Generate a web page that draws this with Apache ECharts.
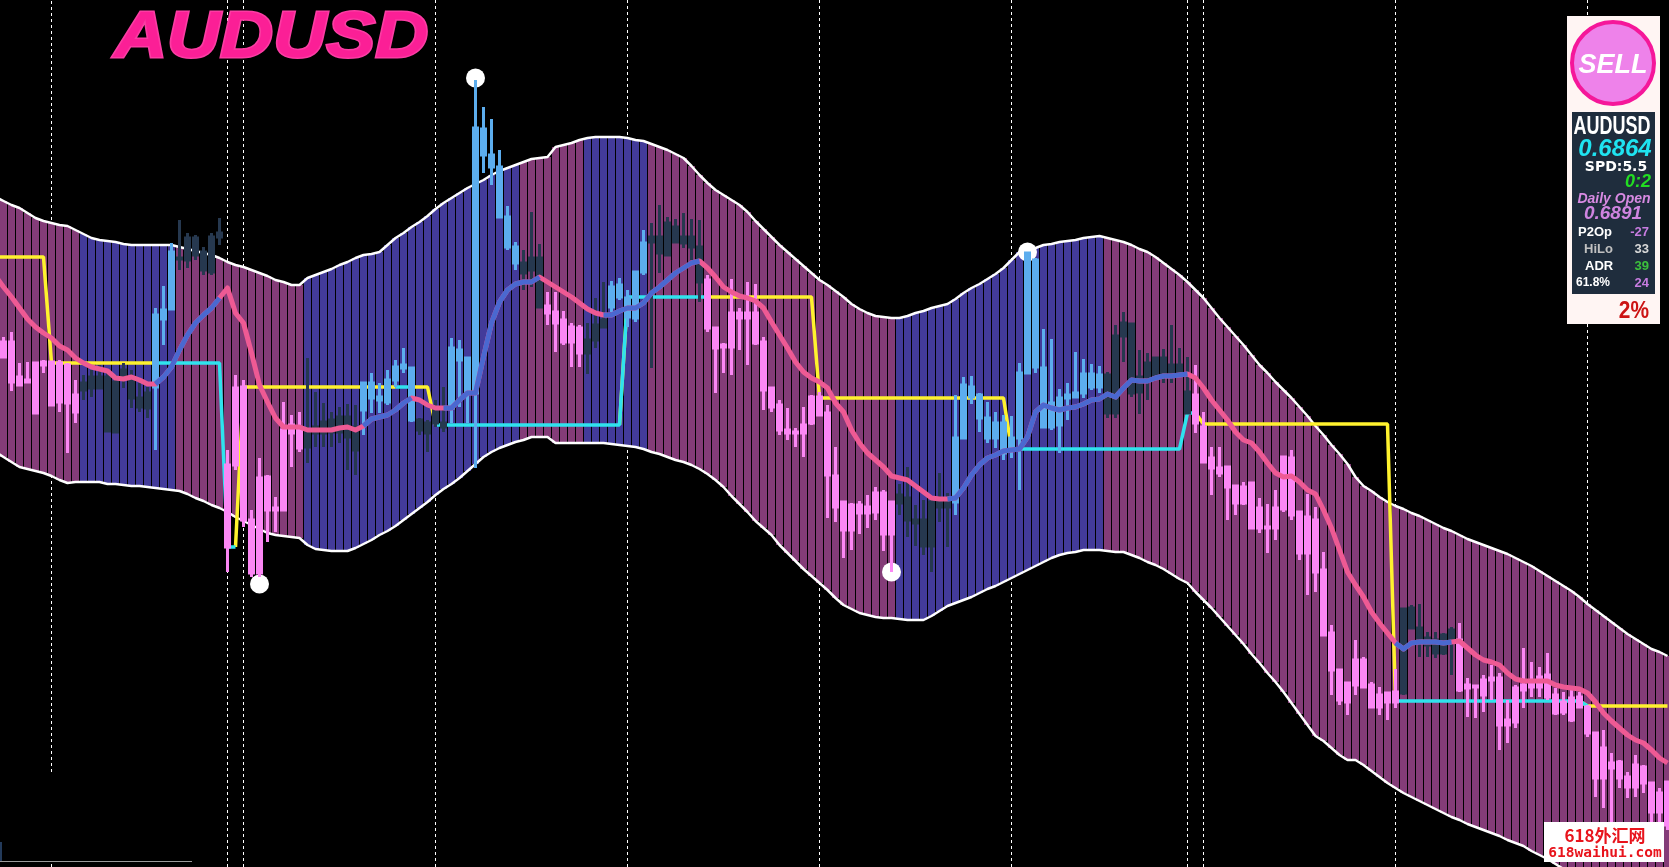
<!DOCTYPE html>
<html>
<head>
<meta charset="utf-8">
<title>AUDUSD</title>
<style>html,body{margin:0;padding:0;background:#000;overflow:hidden}#chart{width:1669px;height:867px}</style>
<script src="https://cdn.jsdelivr.net/npm/echarts@6/dist/echarts.min.js"></script>
</head>
<body>
<div id="chart"></div>
<script>
// The vertical scale is the chart's own reading scale (0 at top, 867 at bottom).
// The first entry of every list is the bar just off the left edge.
const bandUpper = [
197,201,205,208,213,218,221,223,225,226,230,234,238,240,241,242,244,245,245,245,245,
245,245,247,249,251,253,255,258,262,265,267,270,273,276,280,282,285,285,278,275,
272,269,265,262,258,255,254,252,245,238,233,227,222,216,209,203,198,193,188,184,
180,175,171,168,165,162,159,158,157,147,145,143,140,138,137,137,137,137,138,140,
141,144,147,150,154,158,166,175,183,190,195,200,205,212,221,229,237,245,252,259,
266,273,280,285,291,297,304,309,313,316,317,318,318,316,313,311,308,306,304,299,
293,288,284,279,274,268,260,252,250,248,245,244,242,241,240,238,237,236,238,240,
242,245,249,252,257,263,269,275,282,290,298,308,318,327,336,345,355,365,373,382,
390,398,407,416,426,435,445,454,464,477,486,491,497,502,506,509,513,516,520,524,
528,531,535,539,542,545,548,551,554,558,562,566,571,576,581,586,591,597,604,610,
616,622,628,634,639,644,649,652,656];
const bandLower = [
452,457,462,467,469,471,473,476,480,483,482,482,482,482,484,484,485,486,486,487,488,
489,490,491,494,498,501,505,508,512,517,521,525,529,533,535,536,537,538,545,549,
550,551,551,551,548,544,540,535,531,526,520,514,508,502,495,489,484,478,471,464,
457,452,448,445,442,440,437,437,437,443,443,443,443,443,443,443,444,445,446,447,
449,452,454,457,460,462,465,469,474,480,487,496,504,512,521,528,535,545,553,561,
569,576,583,590,598,605,609,613,615,617,618,618,619,620,620,620,616,611,606,603,
600,597,593,589,586,582,578,574,570,566,562,558,555,553,552,550,550,550,551,552,
552,555,558,562,565,569,574,579,583,592,600,608,617,626,635,644,654,663,673,682,
692,703,714,725,736,741,748,755,760,760,765,771,777,783,788,793,797,801,805,809,
813,817,820,824,827,830,833,836,840,843,846,851,855,859,864,869,873,877,881,885,
889,893,897,900,904,908,912,916,920];
// bar-index runs [first, endExclusive] during which the band is blue; purple elsewhere
const bandBlueRuns = [[11,23],[39,66],[74,82],[113,139]];

const bodyTop = [
340,342,342,377,380,363,362,362,363,365,395,383,377,377,377,382,370,377,398,393,315,
310,252,258,238,238,252,237,233,465,388,387,520,478,477,508,430,425,430,432,427,
422,420,417,417,427,383,383,397,380,367,365,368,420,423,410,423,348,350,358,128,
129,155,167,217,247,263,258,258,306,312,320,327,328,340,325,320,287,285,298,272,
243,237,237,223,227,237,237,247,280,328,345,313,313,313,313,342,388,405,430,432,
425,397,397,413,476,502,505,505,507,493,493,502,495,498,520,520,502,502,502,438,
385,387,395,418,423,423,438,373,253,260,368,403,398,395,393,374,374,375,375,336,
323,324,377,363,358,358,365,365,392,395,427,458,468,467,486,487,483,508,527,508,
457,458,512,517,520,570,633,670,683,660,660,685,695,693,692,609,608,628,638,640,
635,630,640,685,686,680,678,678,720,688,685,683,677,675,695,702,698,697,707,733,
748,763,762,777,765,767,783,793,782];
const bodyBottom = [
352,357,382,385,382,413,365,405,402,403,412,390,388,388,431,432,377,398,407,408,387,
319,309,259,260,255,270,272,237,547,465,520,573,573,510,510,510,433,448,447,433,
433,432,432,437,450,410,398,400,402,380,368,420,430,433,423,427,408,360,392,393,
155,167,217,247,263,273,270,307,313,323,342,342,353,353,340,327,307,297,317,318,
272,242,253,255,242,243,247,282,328,348,347,347,318,318,343,390,407,430,433,433,
433,423,415,475,507,530,530,513,513,512,534,534,503,520,523,546,546,507,507,502,
438,397,418,438,438,453,450,438,373,367,427,427,425,398,397,393,387,387,413,413,
336,393,392,377,375,375,375,373,413,423,462,468,473,487,503,503,528,528,528,528,
509,515,553,553,572,635,670,700,702,685,687,707,707,702,702,693,628,638,645,653,
653,640,690,688,687,695,680,725,725,722,690,687,687,697,713,712,720,707,733,778,
778,768,778,787,787,783,812,812,825];
const wickTop = [
335,337,332,363,362,362,360,362,360,363,380,375,370,365,370,375,363,370,383,387,308,
286,243,220,233,235,247,233,218,450,375,380,510,458,475,497,402,415,412,358,392,
403,412,407,404,405,382,373,383,370,360,348,367,418,420,400,387,338,340,357,80,
107,119,150,206,242,250,212,244,292,292,311,323,325,323,298,282,281,278,290,272,
230,223,205,217,219,213,219,220,275,327,343,279,308,282,284,337,388,400,408,428,
407,395,392,405,447,502,503,501,495,487,490,502,484,467,505,500,497,473,493,395,
377,376,393,402,412,415,416,363,253,258,329,339,389,383,352,359,364,366,372,325,
312,323,350,353,358,349,325,348,357,365,412,447,447,466,486,482,483,498,504,490,
457,450,512,494,507,552,625,670,683,640,657,682,687,693,669,608,605,604,632,632,
633,627,623,678,685,675,665,673,700,685,648,662,667,653,688,692,690,692,705,733,
730,753,760,772,755,765,783,788,782];
const wickBottom = [
355,357,391,385,383,413,373,405,412,453,423,400,397,388,431,432,388,408,412,418,450,
345,309,270,268,260,275,275,245,572,470,527,577,577,542,532,510,467,452,463,447,
447,447,443,470,475,435,413,413,405,387,373,422,435,452,427,432,423,407,423,468,
173,185,217,250,270,290,287,307,325,352,345,367,367,374,348,328,312,300,327,322,
275,368,273,255,242,248,260,302,332,393,373,375,350,365,345,410,412,435,440,447,
457,425,415,518,522,558,550,534,528,520,551,572,515,537,546,555,572,522,547,515,
438,404,432,443,448,460,458,490,373,373,427,430,453,420,398,398,390,393,418,418,
362,397,414,400,375,383,383,377,413,433,462,495,477,520,515,505,528,533,553,540,
512,520,560,595,592,635,695,705,715,695,687,707,715,720,708,695,628,657,657,658,
655,675,692,717,718,712,700,750,743,728,708,697,697,700,715,715,722,708,737,797,
808,830,788,798,797,793,822,822,830];
// candle colour runs: [kind, number of bars]
const candleKindRuns = [['p',11],['d',9],['b',3],['d',6],['p',10],['d',7],['b',7],['d',4],['b',9],['d',3],
  ['p',5],['d',3],['b',5],['d',7],['p',24],['d',7],['b',19],['d',11],['p',26],['d',7],['p',27]];

const maLine = [
276,287,297,308,319,327,333,338,346,350,358,363,367,369,371,378,379,377,380,384,384,
377,367,350,335,323,315,308,298,288,313,323,353,385,402,418,427,427,427,430,430,
430,430,428,427,430,426,419,417,415,410,403,398,400,405,408,408,408,400,393,393,
357,323,302,290,284,282,282,277,282,287,292,297,303,309,313,315,315,311,308,308,
303,293,287,280,273,268,263,261,268,277,287,292,296,298,301,308,322,335,348,362,
372,378,382,388,403,412,430,443,453,460,467,476,478,480,486,492,498,499,499,498,
488,475,465,458,455,451,450,449,437,412,405,408,410,408,407,404,400,399,394,397,
388,380,381,381,378,376,376,375,374,378,388,400,410,420,432,440,443,452,463,473,
477,476,482,490,494,510,528,550,572,585,597,612,623,633,643,649,643,642,642,642,
643,642,641,648,655,660,662,665,673,679,681,681,681,681,685,687,688,689,693,702,
713,721,728,735,740,743,750,758,763];
const maBlueRuns = [[20,28],[46,52],[56,68],[76,88],[119,149],[175,182]];

const stepLevels = [257,363,547,387,425,297,398,449,413,424,701,706];
const stepBarCounts = [7,22,2,24,24,24,24,22,2,24,24,11];
const stepCyanRuns = [[20,30],[50,52],[55,78],[79,89],[127,150],[175,199]];
const stepYellowRuns = [[0,20],[30,50],[52,55],[78,79],[89,127],[150,175],[198,209]];

const extremeBars = [33,60,112,129];
const extremeLevels = [584,78,572,252];
const dayLineBars = [7,29,31,55,79,103,127,149,151,175,199];

const barLabels = bandUpper.map((_, i) => String(i));

const COL = {bandP:'#843c78', bandB:'#433b9a', p:'#fb87f4', b:'#5cadee', d:'#26384f',
  maPink:'#ee5a94', maBlue:'#4a68d0', yellow:'#fff22e', cyan:'#2fe3ee'};

function inRuns(i, runs){ return runs.some(r => i >= r[0] && i <= r[1]); }
function inRunsHalf(i, runs){ return runs.some(r => i >= r[0] && i < r[1]); }

const candleKinds = [];
candleKindRuns.forEach(r => { for (let k=0;k<r[1];k++) candleKinds.push(r[0]); });
const candleData = bodyTop.map((t,i) => {
  const c = COL[candleKinds[i]];
  return {value:[t, bodyBottom[i], wickBottom[i], wickTop[i]],
    itemStyle:{color:c,color0:c,borderColor:c,borderColor0:c,borderColorDoji:c}};
});
const stepLine = [];
stepLevels.forEach((v,k) => { for (let j=0;j<stepBarCounts[k];j++) stepLine.push(v); });

const dayLines = dayLineBars.map(b => [{coord:[b, b===7?772:0]},{coord:[b, b===7?0:867]}]);

const chart = echarts.init(document.getElementById('chart'), null, {renderer:'canvas'});

function txt(text,x,y,fill,font,align,sx){
  return {type:'text', silent:true, z:102, x:x, y:y, scaleX:sx||1,
    style:{text,fill,font,textAlign:align||'left',textVerticalAlign:'middle'}};
}
const F = '"Liberation Sans",Arial,sans-serif';

chart.setOption({
  animation:false,
  backgroundColor:'#000',
  grid:{left:-8.5, top:0, width:1680, height:867, containLabel:false, outerBoundsMode:'none'},
  tooltip:{show:false},
  xAxis:{type:'category', data:barLabels, show:false, boundaryGap:true},
  yAxis:{type:'value', min:0, max:867, inverse:true, show:false},
  series:[
    {type:'bar', name:'base', stack:'band', barWidth:7, z:2, silent:true, itemStyle:{color:'transparent'}, data:bandUpper},
    {type:'bar', name:'band', stack:'band', barWidth:7, z:2, silent:true,
      data:bandLower.map((v,i)=>({value:v-bandUpper[i], itemStyle:{color: inRunsHalf(i,bandBlueRuns)?COL.bandB:COL.bandP}}))},
    {type:'line', name:'upper', data:bandUpper, z:3, showSymbol:false, silent:true, lineStyle:{color:'#fff',width:2.5},
      markLine:{z:1, silent:true, symbol:'none', animation:false, label:{show:false},
        lineStyle:{color:'#fff',width:1,type:[3,3]}, data:dayLines}},
    {type:'line', name:'lower', data:bandLower, z:3, showSymbol:false, silent:true, lineStyle:{color:'#fff',width:2.5}},
    {type:'line', name:'stepYellow', z:4, showSymbol:false, silent:true, connectNulls:false, lineStyle:{color:COL.yellow,width:3.5},
      data:stepLine.map((v,i)=>inRuns(i,stepYellowRuns)?v:null)},
    {type:'line', name:'stepCyan', z:4, showSymbol:false, silent:true, connectNulls:false, lineStyle:{color:COL.cyan,width:3.5},
      data:stepLine.map((v,i)=>inRuns(i,stepCyanRuns)?v:null)},
    {type:'scatter', name:'extremes', z:5, silent:true, symbolSize:19, itemStyle:{color:'#fff',opacity:1},
      data:extremeBars.map((b,k)=>[b, extremeLevels[k]])},
    {type:'candlestick', name:'candles', z:6, silent:true, barWidth:4, itemStyle:{borderWidth:3}, data:candleData},
    {type:'line', name:'maPink', z:7, showSymbol:false, silent:true, lineStyle:{color:COL.maPink,width:5,join:'round'}, data:maLine},
    {type:'line', name:'maBlue', z:8, showSymbol:false, silent:true, connectNulls:false, lineStyle:{color:COL.maBlue,width:5,join:'round'},
      data:maLine.map((v,i)=>inRuns(i,maBlueRuns)?v:null)}
  ],
  graphic:[
    {type:'text', silent:true, z:100, x:114, y:39, scaleX:1.13, style:{text:'AUDUSD', fill:'#fb1f96', font:'italic bold 65px '+F,
      textVerticalAlign:'middle', stroke:'#fb3ca3', lineWidth:3}},
    // bottom-left residue
    {type:'rect', silent:true, z:100, shape:{x:0,y:842,width:2,height:19}, style:{fill:'#233a5a'}},
    {type:'rect', silent:true, z:100, shape:{x:0,y:861,width:192,height:1}, style:{fill:'#9a9a9a'}},
    {type:'rect', silent:true, z:100, shape:{x:51,y:864,width:1,height:3}, style:{fill:'#fff'}},
    // signal panel
    {type:'rect', silent:true, z:100, shape:{x:1567,y:16,width:93,height:308}, style:{fill:'#fff5f3'}},
    {type:'circle', silent:true, z:101, shape:{cx:1613,cy:63,r:41}, style:{fill:'#ee82ea',stroke:'#f5179a',lineWidth:4}},
    txt('SELL',1613,66,'#fff','italic bold 27px '+F,'center'),
    {type:'rect', silent:true, z:101, shape:{x:1572,y:112,width:83,height:182}, style:{fill:'#1f2d3d'}},
    txt('AUDUSD',1612,127,'#fff','bold 25px '+F,'center',0.72),
    txt('0.6864',1615,149,'#1fe3f0','italic bold 24px '+F,'center'),
    txt('SPD:5.5',1616,167,'#fff','bold 14px "DejaVu Sans",sans-serif','center'),
    txt('0:2',1651,182,'#22dd22','italic bold 18px '+F,'right'),
    txt('Daily Open',1614,199,'#d88ae2','italic bold 14px '+F,'center'),
    txt('0.6891',1613,214,'#cf84e0','italic bold 19px '+F,'center'),
    txt('P2Op',1578,232,'#fff','bold 13px '+F),
    txt('-27',1649,232,'#c77ce0','bold 13px '+F,'right'),
    txt('HiLo',1584,249,'#c0c0c0','bold 13px '+F),
    txt('33',1649,249,'#d8d8d8','bold 13px '+F,'right'),
    txt('ADR',1585,266,'#fff','bold 13px '+F),
    txt('39',1649,266,'#3cc03c','bold 13px '+F,'right'),
    txt('61.8%',1576,283,'#fff','bold 12px '+F),
    txt('24',1649,283,'#c77ce0','bold 13px '+F,'right'),
    txt('2%',1649,311,'#cc1414','bold 24px '+F,'right',0.87),
    // watermark
    {type:'rect', silent:true, z:100, shape:{x:1544,y:822,width:120,height:40}, style:{fill:'#fff'}},
    txt('618外汇网',1605,836,'#e8141c','bold 17px "Noto Sans CJK SC",sans-serif','center'),
    txt('618waihui.com',1605,853,'#e8141c','bold 14.5px "DejaVu Sans Mono",monospace','center')
  ]
});
</script>
</body>
</html>
